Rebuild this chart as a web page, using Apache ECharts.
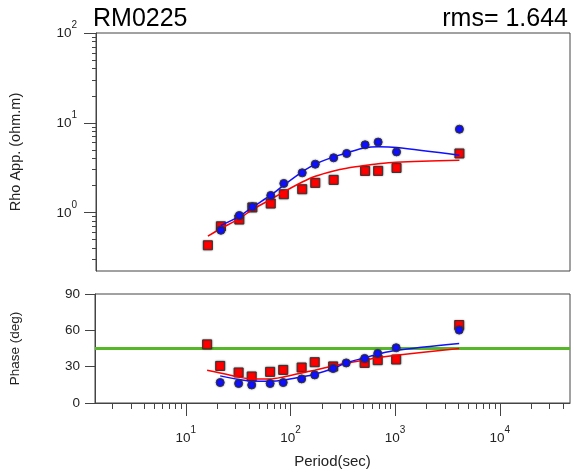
<!DOCTYPE html>
<html><head><meta charset="utf-8">
<script src="https://cdn.jsdelivr.net/npm/echarts@6/dist/echarts.min.js"></script>
<style>html,body{margin:0;padding:0;background:#fff}#c{width:574px;height:472px}</style>
</head><body><div id="c"></div>
<script>
// ---- data ----
const periods = [16, 21.33, 32, 42.67, 64, 85.33, 128, 170.67, 256, 341.33, 512, 682.67, 1024, 4096];
const rhoRed  = [0.432, 0.703, 0.836, 1.14, 1.26, 1.60, 1.82, 2.14, 2.31, null, 2.91, 2.91, 3.14, 4.55];
const rhoBlue = [null, 0.635, 0.927, 1.16, 1.55, 2.11, 2.77, 3.46, 4.07, 4.55, 5.68, 6.09, 4.74, 8.49];
const rhoRedModel  = [0.545, 0.664, 0.857, 1.08, 1.40, 1.70, 2.19, 2.54, 2.91, 3.12, 3.34, 3.50, 3.64, 3.83];
const rhoBlueModel = [null, 0.721, 0.909, 1.15, 1.56, 2.02, 2.84, 3.46, 4.17, 4.62, 5.26, 5.40, 5.31, 4.36];
const phRed  = [48.4, 30.6, 25.2, 21.9, 25.7, 27.3, 29.3, 33.7, 30.2, null, 33.1, 35.4, 35.9, 64.4];
const phBlue = [null, 16.9, 16.1, 14.9, 16.1, 16.9, 19.9, 23.2, 28.5, 33.1, 36.8, 40.9, 45.6, 60.2];
const phRedModel  = [27.1, 24.8, 21.5, 19.9, 19.9, 21.5, 24.8, 27.1, 30.6, 33.0, 35.4, 37.5, 39.5, 45.0];
const phBlueModel = [null, 22.4, 19.4, 18.2, 18.0, 18.8, 21.5, 23.8, 28.5, 33.1, 37.3, 40.3, 43.6, 49.2];
const refPhase = 45;
const xDecades = [1, 2, 3, 4];
const rhoDecades = [0, 1, 2];
const phaseTicks = [0, 30, 60, 90];
const stationName = 'RM0225';
const rmsText = 'rms= 1.644';

// ---- helpers ----
const L = Math.log10;
const XMIN = 0.133, XMAX = 4.671, YMIN = -0.651, YMAX = 2;
function pairs(vals, logY) {
  const out = [];
  periods.forEach((p, i) => { const v = vals[i]; if (v != null) out.push([L(p), logY ? L(v) : v]); });
  return out;
}
function minorTicks(lo, hi) {
  const r = [];
  for (let d = -2; d <= 5; d++) for (let k = 2; k <= 9; k++) {
    const v = d + L(k); if (v > lo && v < hi) r.push(v);
  }
  return r;
}
const FONT = '"Liberation Sans", Arial, sans-serif';
const AX = '#444';
const powRich = {
  b: { fontSize: 13.5, fontFamily: FONT, color: '#222', lineHeight: 20, verticalAlign: 'bottom' },
  s: { fontSize: 10, fontFamily: FONT, color: '#222', lineHeight: 11, verticalAlign: 'top' }
};
const powFmt = v => '{b|10}{s|' + Math.round(v) + '}';

const RED = '#ff0000', BLUE = '#1010ff', GREEN = '#56b829';
const sqStyle = { color: RED, borderColor: '#333', borderWidth: 1, opacity: 1, shadowColor: 'rgba(0,0,0,0.35)', shadowBlur: 2 };
const ciStyle = { color: BLUE, borderColor: '#333', borderWidth: 1, opacity: 1, shadowColor: 'rgba(0,0,0,0.35)', shadowBlur: 2 };

const chart = echarts.init(document.getElementById('c'), null, { renderer: 'canvas' });
chart.setOption({
  animation: false,
  backgroundColor: '#fff',
  textStyle: { fontFamily: FONT },
  graphic: [
    { type: 'text', x: 93, y: 19, style: { text: stationName, font: '25px ' + FONT, fill: '#000', textVerticalAlign: 'middle' } },
    { type: 'text', x: 568, y: 19, style: { text: rmsText, font: '25px ' + FONT, fill: '#000', textAlign: 'right', textVerticalAlign: 'middle' } }
  ],
  grid: [
    { left: 92, top: 33, width: 478, height: 238, show: true, borderColor: AX, borderWidth: 1, backgroundColor: 'transparent' },
    { left: 92, top: 294, width: 478, height: 109, show: true, borderColor: AX, borderWidth: 1, backgroundColor: 'transparent' }
  ],
  xAxis: [
    { gridIndex: 0, position: 'bottom', type: 'value', min: XMIN, max: XMAX, axisLine: { show: false }, axisTick: { show: false }, axisLabel: { show: false }, splitLine: { show: false } },
    { gridIndex: 1, position: 'bottom', type: 'value', min: XMIN, max: XMAX, splitLine: { show: false },
      axisLine: { show: true, lineStyle: { color: AX } },
      axisTick: { show: true, customValues: xDecades, length: 13, lineStyle: { color: AX } },
      axisLabel: { customValues: xDecades, formatter: powFmt, rich: powRich, margin: 22 },
      name: 'Period(sec)', nameLocation: 'middle', nameGap: 51, nameTextStyle: { fontSize: 15, color: '#222', fontFamily: FONT } },
    { gridIndex: 1, position: 'bottom', offset: 0, type: 'value', min: XMIN, max: XMAX, splitLine: { show: false },
      axisLine: { show: false },
      axisTick: { show: true, customValues: minorTicks(XMIN, XMAX), length: 6, lineStyle: { color: AX } },
      axisLabel: { show: false } }
  ],
  yAxis: [
    { gridIndex: 0, position: 'left', type: 'value', min: YMIN, max: YMAX, splitLine: { show: false },
      axisLine: { show: true, lineStyle: { color: AX } },
      axisTick: { show: true, customValues: rhoDecades, length: 12, lineStyle: { color: AX } },
      axisLabel: { customValues: rhoDecades, formatter: powFmt, rich: powRich, margin: 19, padding: [0, 0, 5, 0] },
      name: 'Rho App. (ohm.m)', nameLocation: 'middle', nameGap: 73, nameTextStyle: { fontSize: 14.5, color: '#222', fontFamily: FONT } },
    { gridIndex: 0, position: 'left', offset: 0, type: 'value', min: YMIN, max: YMAX, splitLine: { show: false },
      axisLine: { show: false },
      axisTick: { show: true, customValues: minorTicks(YMIN, YMAX), length: 4, lineStyle: { color: AX } },
      axisLabel: { show: false } },
    { gridIndex: 1, position: 'left', type: 'value', min: 0, max: 90, splitLine: { show: false },
      axisLine: { show: true, lineStyle: { color: AX } },
      axisTick: { show: true, customValues: phaseTicks, length: 10, lineStyle: { color: AX } },
      axisLabel: { customValues: phaseTicks, fontSize: 13.5, color: '#222', margin: 15, fontFamily: FONT },
      name: 'Phase (deg)', nameLocation: 'middle', nameGap: 73, nameTextStyle: { fontSize: 13.5, color: '#222', fontFamily: FONT } }
  ],
  series: [
    { type: 'line', xAxisIndex: 1, yAxisIndex: 2, data: [[XMIN, refPhase], [XMAX, refPhase]], showSymbol: false, lineStyle: { color: GREEN, width: 3 }, z: 1 },
    { type: 'scatter', xAxisIndex: 0, yAxisIndex: 0, data: pairs(rhoRed, true), symbol: 'rect', symbolSize: 9, itemStyle: sqStyle, z: 2 },
    { type: 'line', xAxisIndex: 0, yAxisIndex: 0, data: pairs(rhoRedModel, true), showSymbol: false, smooth: 0.3, lineStyle: { color: RED, width: 1.5 }, z: 3 },
    { type: 'line', xAxisIndex: 0, yAxisIndex: 0, data: pairs(rhoBlueModel, true), showSymbol: false, smooth: 0.3, lineStyle: { color: BLUE, width: 1.5 }, z: 4 },
    { type: 'scatter', xAxisIndex: 0, yAxisIndex: 0, data: pairs(rhoBlue, true), symbol: 'circle', symbolSize: 8, itemStyle: ciStyle, z: 5 },
    { type: 'scatter', xAxisIndex: 1, yAxisIndex: 2, data: pairs(phRed, false), symbol: 'rect', symbolSize: 9, itemStyle: sqStyle, z: 2 },
    { type: 'line', xAxisIndex: 1, yAxisIndex: 2, data: pairs(phRedModel, false), showSymbol: false, smooth: 0.3, lineStyle: { color: RED, width: 1.5 }, z: 3 },
    { type: 'line', xAxisIndex: 1, yAxisIndex: 2, data: pairs(phBlueModel, false), showSymbol: false, smooth: 0.3, lineStyle: { color: BLUE, width: 1.5 }, z: 4 },
    { type: 'scatter', xAxisIndex: 1, yAxisIndex: 2, data: pairs(phBlue, false), symbol: 'circle', symbolSize: 8, itemStyle: ciStyle, z: 5 }
  ]
});
</script></body></html>
